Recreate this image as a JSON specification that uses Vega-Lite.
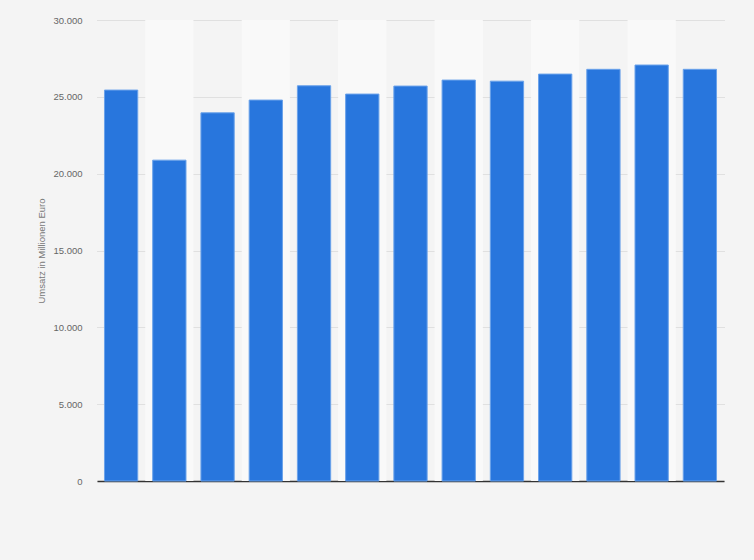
{
  "$schema": "https://vega.github.io/schema/vega-lite/v6.json",
  "width": 627,
  "height": 461,
  "autosize": {"type": "none"},
  "padding": {"left": 97, "top": 20, "right": 30, "bottom": 79},
  "background": "#f4f4f4",
  "config": {
    "view": {"stroke": null, "fill": "#f4f4f4"},
    "font": "Liberation Sans"
  },
  "data": {
    "values": [
      {"Jahr": "2008", "Umsatz": 25440},
      {"Jahr": "2009", "Umsatz": 20880},
      {"Jahr": "2010", "Umsatz": 23960},
      {"Jahr": "2011", "Umsatz": 24790},
      {"Jahr": "2012", "Umsatz": 25720},
      {"Jahr": "2013", "Umsatz": 25180},
      {"Jahr": "2014", "Umsatz": 25700},
      {"Jahr": "2015", "Umsatz": 26090},
      {"Jahr": "2016", "Umsatz": 26020},
      {"Jahr": "2017", "Umsatz": 26480},
      {"Jahr": "2018", "Umsatz": 26790},
      {"Jahr": "2019", "Umsatz": 27070},
      {"Jahr": "2020", "Umsatz": 26790}
    ]
  },
  "encoding": {
    "x": {
      "field": "Jahr",
      "type": "nominal",
      "sort": ["2008", "2009", "2010", "2011", "2012", "2013", "2014", "2015", "2016", "2017", "2018", "2019", "2020"],
      "scale": {"paddingInner": 0.31, "paddingOuter": 0.155},
      "axis": {
        "title": null,
        "labels": false,
        "ticks": false,
        "domain": true,
        "domainColor": "#333333",
        "domainWidth": 1.5,
        "grid": false
      }
    }
  },
  "layer": [
    {
      "transform": [
        {"window": [{"op": "row_number", "as": "idx"}]},
        {"filter": "datum.idx % 2 == 0"}
      ],
      "mark": {"type": "bar", "color": "#f9f9f9", "width": {"band": 1.449}},
      "encoding": {
        "y": {"datum": 30000, "type": "quantitative"},
        "y2": {"datum": 0}
      }
    },
    {
      "mark": {"type": "bar", "color": "#2876dd", "stroke": "#6aa2ea", "strokeWidth": 1},
      "encoding": {
        "y": {
          "field": "Umsatz",
          "type": "quantitative",
          "scale": {"domain": [0, 30000], "nice": false},
          "axis": {
            "title": "Umsatz in Millionen Euro",
            "titleColor": "#777777",
            "titleFontSize": 9.5,
            "titleFontWeight": "normal",
            "titlePadding": 6,
            "values": [0, 5000, 10000, 15000, 20000, 25000, 30000],
            "labelExpr": "replace(format(datum.value, ','), ',', '.')",
            "labelColor": "#666666",
            "labelFontSize": 9.5,
            "labelPadding": 15,
            "ticks": false,
            "domain": false,
            "grid": true,
            "gridColor": "#cccccc",
            "gridDash": [1, 1],
            "gridWidth": 1
          }
        }
      }
    }
  ]
}
